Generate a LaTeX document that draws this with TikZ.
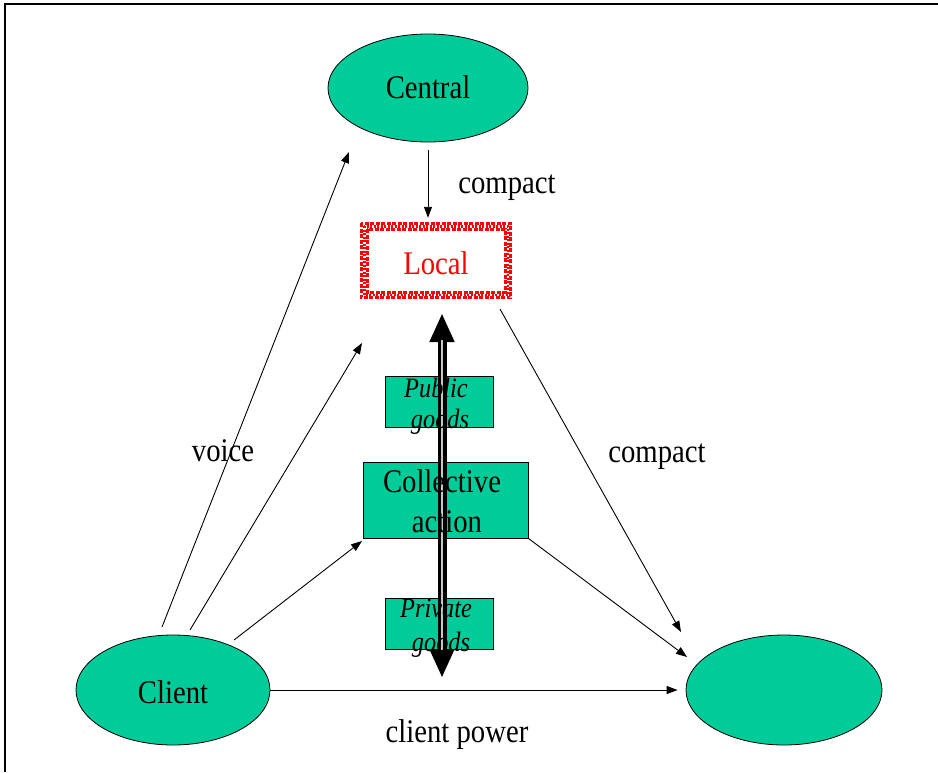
\documentclass[tikz,border=0pt]{standalone}
\usepackage{fontspec}
\usepackage{graphicx}
\setmainfont{Liberation Serif}
\usetikzlibrary{arrows.meta,shapes.geometric}
\definecolor{sea}{RGB}{0,204,153}
% condensed setting of the labels
\newcommand{\narrowtxt}[1]{\scalebox{0.87}[1]{#1}}
\begin{document}
\begin{tikzpicture}[x=1pt,y=-1pt,
  blob/.style={ellipse, draw=black, line width=0.8pt, fill=sea, inner sep=0pt},
  tbox/.style={rectangle, draw=black, line width=0.8pt, fill=sea, inner sep=0pt},
  lbl/.style={anchor=base, inner sep=0pt, font=\fontsize{33}{40}\selectfont},
  smalllbl/.style={anchor=base, inner sep=0pt, font=\fontsize{28}{31}\selectfont\itshape},
  arr/.style={line width=0.9pt, -{Triangle[length=11pt,width=8pt]}},
  bandA/.style={red, line width=3pt, dash pattern=on 4pt off 1.5pt},
  bandB/.style={red, line width=2.6pt, dash pattern=on 2pt off 1.5pt},
]
\useasboundingbox (0,0) rectangle (938,772);
% frame (top and left edges)
\draw[line width=1.3pt] (938,4) -- (5,4) -- (5,772);

% shapes
\node[blob, minimum width=200pt, minimum height=108pt] (central) at (428,88) {};
\node[blob, minimum width=194pt, minimum height=110pt] (client) at (173,690) {};
\node[blob, minimum width=196pt, minimum height=110pt] (rightend) at (784,690) {};
\node[rectangle, minimum width=152pt, minimum height=77pt, inner sep=0pt] (local) at (436,260.5) {};
\node[tbox, minimum width=108pt, minimum height=51pt] (pub) at (439,401.5) {};
\node[tbox, minimum width=165pt, minimum height=76pt] (coll) at (445.5,500) {};
\node[tbox, minimum width=108pt, minimum height=51pt] (priv) at (439,623.5) {};

% red patterned border of the Local box
\draw[bandA] ([shift={(1.5,1.5)}]local.north west) rectangle ([shift={(-1.5,-1.5)}]local.south east);
\draw[bandB] ([shift={(4.4,4.4)}]local.north west) rectangle ([shift={(-4.4,-4.4)}]local.south east);
\draw[bandA] ([shift={(7.2,7.2)}]local.north west) rectangle ([shift={(-7.2,-7.2)}]local.south east);

% free ends of the connectors
\coordinate (v0) at (162,627);
\coordinate (v1) at (349,152);
\coordinate (w0) at (190,630);
\coordinate (w1) at (362,343);
\coordinate (x0) at (234,640);
\coordinate (x1) at (362,541);
\coordinate (y0) at (500,309);
\coordinate (y1) at (681,632);
\coordinate (z1) at (687,657);
\coordinate (upTip) at (442,313);
\coordinate (downTip) at (442,678);
\coordinate (upBase) at (442,340);
\coordinate (downBase) at (442,651);

% thin connectors
\draw[arr, shorten <=8pt, shorten >=4pt] (central.south) -- (central.south |- local.north);
\draw[arr] (v0) -- (v1);
\draw[arr] (w0) -- (w1);
\draw[arr] (x0) -- (x1);
\draw[arr, shorten >=8pt] (client.east) -- (rightend.west);
\draw[arr] (y0) -- (y1);
\draw[arr] (coll.south east) -- (z1);

% thick two-headed arrow through the middle column
\draw[line width=9pt, {Triangle[width=23pt,length=29pt]}-{Triangle[width=23pt,length=29pt]}] (upTip) -- (downTip);
\draw[line width=1.5pt, gray!45] (upBase) -- (downBase);

% texts
\node[lbl] (tCentral) at (428,98) {\narrowtxt{Central}};
\node[lbl, red] (tLocal) at (436,274) {\narrowtxt{Local}};
\node[lbl] (tCompactA) at (507,193) {\narrowtxt{compact}};
\node[lbl] (tVoice) at (223,461) {\narrowtxt{voice}};
\node[lbl] (tCompactB) at (657,462) {\narrowtxt{compact}};
\node[lbl] (tCollA) at (442,492) {\narrowtxt{Collective}};
\node[lbl] (tCollB) at (447,532) {\narrowtxt{action}};
\node[lbl] (tClient) at (173,703) {\narrowtxt{Client}};
\node[lbl] (tPower) at (457,742) {\narrowtxt{client power}};
\node[smalllbl] (tPubA) at (436,397) {\narrowtxt{Public}};
\node[smalllbl] (tPubB) at (440,428) {\narrowtxt{goods}};
\node[smalllbl] (tPrivA) at (436,617) {\narrowtxt{Private}};
\node[smalllbl] (tPrivB) at (441,651) {\narrowtxt{goods}};
\end{tikzpicture}
\end{document}
